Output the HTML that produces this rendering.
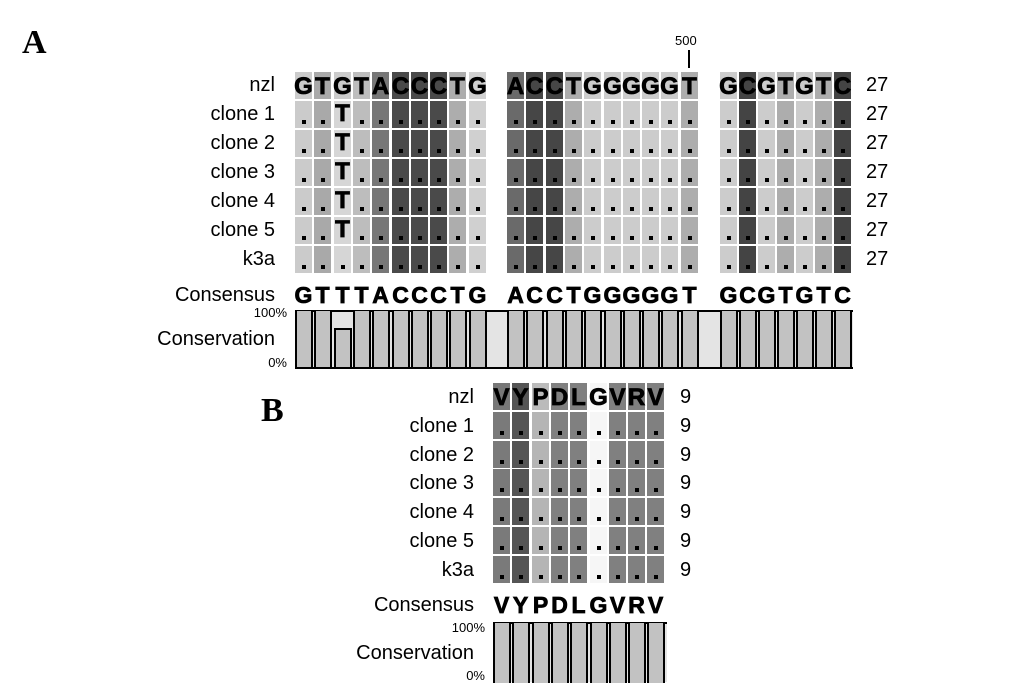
<!DOCTYPE html>
<html><head><meta charset="utf-8"><style>
body{margin:0;width:1032px;height:688px;background:#fff;position:relative;overflow:hidden;font-family:"Liberation Sans",Arial,sans-serif}
.a{position:absolute}
.c{position:absolute;box-sizing:border-box;text-align:center;font-weight:bold;color:#000;-webkit-text-stroke:0.8px #000}
.lab{position:absolute;font-size:20px;text-align:right;white-space:nowrap}
.dot{position:absolute;width:4px;height:4px;background:#000}
</style></head><body>
<div class="a" style="left:22px;top:24px;font:bold 34px 'Liberation Serif',serif">A</div>
<div class="a" style="left:261px;top:392px;font:bold 34px 'Liberation Serif',serif">B</div>
<div class="a" style="left:675px;top:33px;font-size:13px">500</div>
<div class="a" style="left:688px;top:50px;width:2px;height:18px;background:#000"></div>
<div id="root"></div>
<script>
var R=document.getElementById('root');var h='';
function add(s){h+=s;}
var names=['nzl','clone 1','clone 2','clone 3','clone 4','clone 5','k3a'];
var nzlA='GTGTACCCTG ACCTGGGGGT GCGTGTC';
var colA=['#cbcbcb','#a9a9a9','#d6d6d6','#bdbdbd','#777','#4a4a4a','#4a4a4a','#4a4a4a','#adadad','#d0d0d0',null,
'#6a6a6a','#464646','#464646','#adadad','#cccccc','#cccccc','#cccccc','#cccccc','#cccccc','#adadad',null,
'#cccccc','#444','#cccccc','#adadad','#cccccc','#adadad','#444'];
var nzlTop=['#cbcbcb','#a9a9a9','#cbcbcb','#bdbdbd','#777','#4a4a4a','#4a4a4a','#4a4a4a','#adadad','#d0d0d0'];
var consA='GTTTACCCTG ACCTGGGGGT GCGTGTC';
function xA(i){ var v; if(i<10) v=295+i*19.3; else if(i<21) v=507+(i-11)*19.3; else v=720+(i-22)*19.0; return Math.round(v);}
for(var r=0;r<7;r++){
 var y=72+r*29;
 add('<div class="lab" style="right:'+(1032-275)+'px;top:'+(y+2)+'px">'+names[r]+'</div>');
 add('<div class="lab" style="left:866px;top:'+(y+2)+'px;text-align:left">27</div>');
 for(var i=0;i<nzlA.length;i++){ if(nzlA[i]==' ')continue;
  var x=xA(i);var col=colA[i]; if(r==0&&i<10)col=nzlTop[i];
  add('<div class="c" style="left:'+x+'px;top:'+y+'px;width:17px;height:27px;background:'+col+'"></div>');
  if(r==0) add('<div class="c" style="left:'+(x-3)+'px;top:'+(y+1)+'px;width:23px;font-size:24px;line-height:27px">'+nzlA[i]+'</div>');
  else if(i==2&&r<6) add('<div class="c" style="left:'+(x-3)+'px;top:'+(y-1)+'px;width:23px;font-size:24px;line-height:27px">T</div>');
  else add('<div class="dot" style="left:'+(x+7)+'px;top:'+(y+19)+'px"></div>');
 }
}
add('<div class="lab" style="right:'+(1032-275)+'px;top:284px">Consensus</div>');
for(var i=0;i<consA.length;i++){if(consA[i]==' ')continue;var x=xA(i);
 add('<div class="c" style="left:'+(x-3)+'px;top:282px;width:23px;font-size:23px;line-height:27px">'+consA[i]+'</div>');}
add('<div class="a" style="right:'+(1032-287)+'px;top:305px;font-size:13px">100%</div>');
add('<div class="lab" style="right:'+(1032-275)+'px;top:328px">Conservation</div>');
add('<div class="a" style="right:'+(1032-287)+'px;top:355px;font-size:13px">0%</div>');
add('<div class="a" style="left:295px;top:310px;width:558px;height:59px;background:#e4e4e4;border-top:2px solid #000;border-bottom:2px solid #000;box-sizing:border-box"></div>');
for(var i=0;i<consA.length;i++){if(consA[i]==' ')continue;var x=xA(i);var t=(i==2)?328:311;
 add('<div class="a" style="left:'+x+'px;top:'+t+'px;width:18px;height:'+(367-t)+'px;background:#c2c2c2;border:2px solid #000;border-bottom:0;box-sizing:border-box;'+(i==2?'':'border-top:0')+'"></div>');}
var nzlB='VYPDLGVRV';
var colB=['#777','#555','#bbb','#808080','#808080','#f6f6f6','#808080','#808080','#808080'];
var colB2=['#7a7a7a','#555','#b5b5b5','#808080','#808080','#f6f6f6','#808080','#808080','#808080'];
function xB(i){return Math.round(493+i*19.3);}
for(var r=0;r<7;r++){
 var y=Math.round(383+r*28.8);
 add('<div class="lab" style="right:'+(1032-474)+'px;top:'+(y+3)+'px">'+names[r]+'</div>');
 add('<div class="lab" style="left:680px;top:'+(y+3)+'px;text-align:left">9</div>');
 for(var i=0;i<9;i++){var x=xB(i);
  add('<div class="c" style="left:'+x+'px;top:'+y+'px;width:17px;height:27px;background:'+(r?colB2[i]:colB[i])+'"></div>');
  if(r==0) add('<div class="c" style="left:'+(x-3)+'px;top:'+(y+1)+'px;width:23px;font-size:24px;line-height:27px">'+nzlB[i]+'</div>');
  else add('<div class="dot" style="left:'+(x+7)+'px;top:'+(y+19)+'px"></div>');
 }
}
add('<div class="lab" style="right:'+(1032-474)+'px;top:594px">Consensus</div>');
for(var i=0;i<9;i++){var x=xB(i);
 add('<div class="c" style="left:'+(x-3)+'px;top:592px;width:23px;font-size:23px;line-height:27px">'+nzlB[i]+'</div>');}
add('<div class="a" style="right:'+(1032-485)+'px;top:620px;font-size:13px">100%</div>');
add('<div class="lab" style="right:'+(1032-474)+'px;top:642px">Conservation</div>');
add('<div class="a" style="right:'+(1032-485)+'px;top:668px;font-size:13px">0%</div>');
add('<div class="a" style="left:493px;top:622px;width:174px;height:60px;background:#e4e4e4;border-top:2px solid #000;box-sizing:border-box"></div>');
for(var i=0;i<9;i++){var x=xB(i);
 add('<div class="a" style="left:'+x+'px;top:623px;width:18px;height:60px;background:#c2c2c2;border:2px solid #000;border-top:0;border-bottom:0;box-sizing:border-box"></div>');}
R.innerHTML=h;
</script>
</body></html>
